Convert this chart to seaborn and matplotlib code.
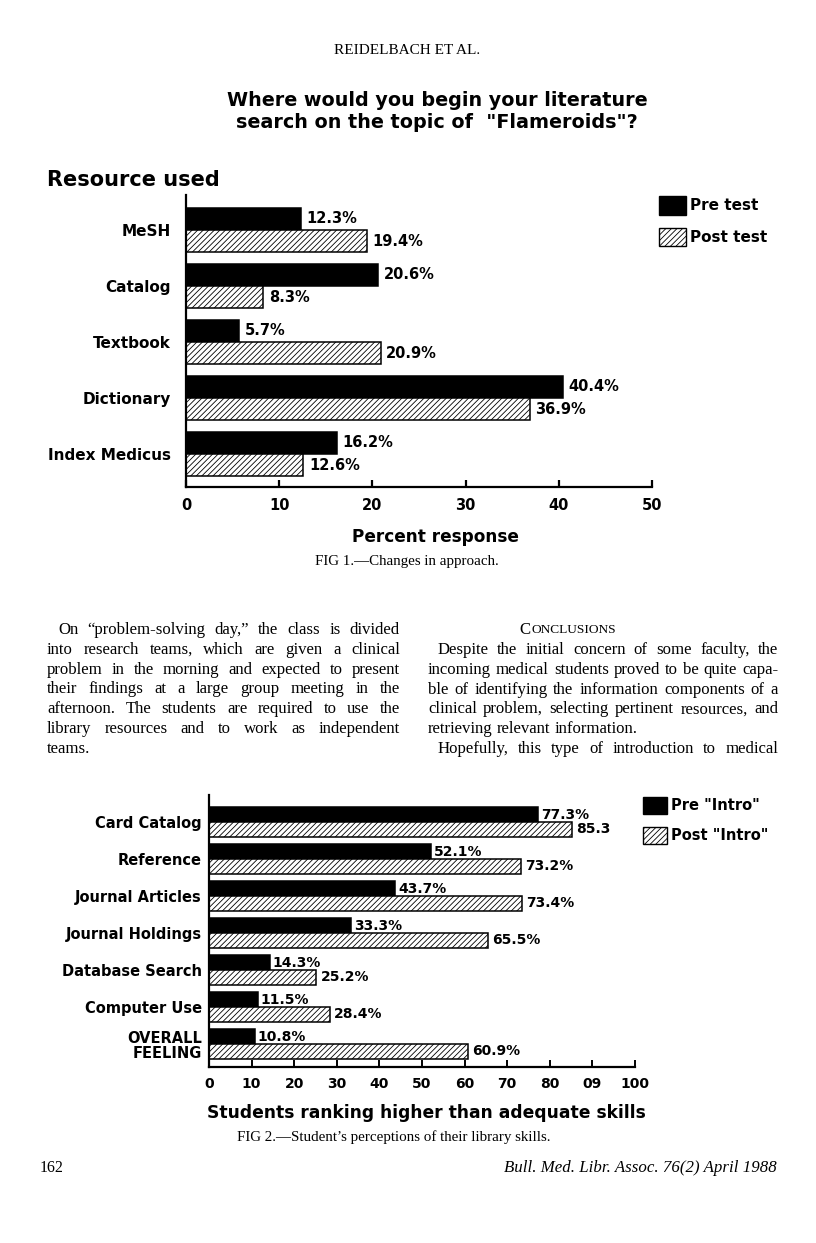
import numpy as np
import pandas as pd
import matplotlib
matplotlib.use("Agg")
import matplotlib.pyplot as plt
from matplotlib.patches import Patch
import seaborn as sns

# Fig 1 data
resources = ["MeSH", "Catalog", "Textbook", "Dictionary", "Index Medicus"]
pre_test = [12.3, 20.6, 5.7, 40.4, 16.2]
post_test = [19.4, 8.3, 20.9, 36.9, 12.6]

# Fig 2 data
skills = ["Card Catalog", "Reference", "Journal Articles", "Journal Holdings",
          "Database Search", "Computer Use", "OVERALL\nFEELING"]
pre_intro = [77.3, 52.1, 43.7, 33.3, 14.3, 11.5, 10.8]
post_intro = [85.3, 73.2, 73.4, 65.5, 25.2, 28.4, 60.9]
fig2_ticks = [0, 10, 20, 30, 40, 50, 60, 70, 80, 90, 100]
fig2_ticklabels = ["0", "10", "20", "30", "40", "50", "60", "70", "80", "09", "100"]

W, H = 816, 1243
sns.set_style("white")
plt.rcParams["font.family"] = ["DejaVu Sans"]
plt.rcParams.update({"text.color": "black", "axes.edgecolor": "black",
                     "xtick.color": "black", "ytick.color": "black",
                     "axes.labelcolor": "black", "hatch.linewidth": 0.6})
SERIF = ["Liberation Serif", "DejaVu Serif"]
HATCH = "//////"

fig = plt.figure(figsize=(W / 100, H / 100), dpi=100)
fig.patch.set_facecolor("white")


def fx(x):
    return x / W


def fy(y):
    return 1 - y / H


def hbars(ax, cats, pre, post, names):
    df = pd.DataFrame({"cat": cats * 2, "pct": pre + post,
                       "phase": [names[0]] * len(cats) + [names[1]] * len(cats)})
    sns.barplot(data=df, y="cat", x="pct", hue="phase", orient="h",
                palette=["black", "white"], saturation=1, edgecolor="black",
                linewidth=1.1, width=0.8, errorbar=None, legend=False, ax=ax)
    for p in ax.containers[1]:
        p.set_hatch(HATCH)
    sns.despine(ax=ax)
    ax.spines["left"].set_linewidth(1.6)
    ax.spines["bottom"].set_linewidth(1.6)
    ax.set_xlabel("")
    ax.set_ylabel("")


# ---------- header ----------
fig.text(fx(407), fy(50), "REIDELBACH ET AL.", family=SERIF, fontsize=11,
         ha="center", va="center")
fig.text(fx(437), fy(100), "Where would you begin your literature",
         fontsize=13.8, fontweight="bold", ha="center", va="center")
fig.text(fx(437), fy(122), "search on the topic of  \"Flameroids\"?",
         fontsize=13.8, fontweight="bold", ha="center", va="center")

# ---------- Fig 1 ----------
ax1 = fig.add_axes([fx(186), fy(487), (652 - 186) / W, (487 - 195) / H])
hbars(ax1, resources, pre_test, post_test, ["Pre test", "Post test"])
ax1.set_xlim(0, 50)
ax1.set_ylim(4.59, -0.625)
ax1.set_xticks([0, 10, 20, 30, 40, 50])
ax1.tick_params(axis="x", bottom=True, direction="in", length=5, width=1.6,
                pad=8, labelsize=10.5)
ax1.tick_params(axis="y", left=False, length=0, pad=11, labelsize=11)
for t in ax1.get_xticklabels() + ax1.get_yticklabels():
    t.set_fontweight("bold")
ax1.bar_label(ax1.containers[0], labels=[f"{v}%" for v in pre_test],
              padding=4, fontsize=10.5, fontweight="bold")
ax1.bar_label(ax1.containers[1], labels=[f"{v}%" for v in post_test],
              padding=4, fontsize=10.5, fontweight="bold")
fig.text(fx(47), fy(180), "Resource used", fontsize=15, fontweight="bold",
         ha="left", va="center")
fig.text(fx(435), fy(537), "Percent response", fontsize=12.2,
         fontweight="bold", ha="center", va="center")
fig.text(fx(407), fy(562), "FIG 1.\u2014Changes in approach.", family=SERIF,
         fontsize=10.8, ha="center", va="center")

h1 = [Patch(facecolor="black", edgecolor="black"),
      Patch(facecolor="white", edgecolor="black", hatch=HATCH)]
ax1.legend(h1, ["Pre test", "Post test"], loc="upper left",
           bbox_to_anchor=(fx(659), fy(196)), bbox_transform=fig.transFigure,
           frameon=False, borderpad=0, borderaxespad=0, handlelength=1.75,
           handleheight=1.5, labelspacing=0.85, handletextpad=0.25,
           prop={"weight": "bold", "size": 11})

# ---------- body text ----------
left_lines = [
    "On \u201cproblem-solving day,\u201d the class is divided",
    "into research teams, which are given a clinical",
    "problem in the morning and expected to present",
    "their findings at a large group meeting in the",
    "afternoon. The students are required to use the",
    "library resources and to work as independent",
    "teams.",
]
left_indent = [11, 0, 0, 0, 0, 0, 0]
left_just = [1, 1, 1, 1, 1, 1, 0]
right_lines = [
    "Despite the initial concern of some faculty, the",
    "incoming medical students proved to be quite capa-",
    "ble of identifying the information components of a",
    "clinical problem, selecting pertinent resources, and",
    "retrieving relevant information.",
    "Hopefully, this type of introduction to medical",
]
right_indent = [10, 0, 0, 0, 0, 10]
right_just = [1, 1, 1, 1, 0, 1]

renderer = fig.canvas.get_renderer()


def natural_scale(lines, indents, flags, width):
    best = 10.0
    for line, ind, fl in zip(lines, indents, flags):
        if not fl:
            continue
        t = fig.text(0, 0, line, family=SERIF, fontsize=10)
        w = t.get_window_extent(renderer).width
        t.remove()
        best = min(best, (width - ind) / w)
    return best


def justify(lines, x0, x1, y0, dy, size, indents, flags):
    for i, line in enumerate(lines):
        y = y0 + i * dy
        objs = [fig.text(0, fy(y), w, family=SERIF, fontsize=size,
                         va="center", ha="left") for w in line.split(" ")]
        widths = [o.get_window_extent(renderer).width for o in objs]
        start = x0 + indents[i]
        if flags[i] and len(objs) > 1:
            gap = (x1 - start - sum(widths)) / (len(objs) - 1)
        else:
            gap = size * 0.35
        x = start
        for o, w in zip(objs, widths):
            o.set_x(fx(x))
            x += w + gap


body_size = 10 * min(natural_scale(left_lines, left_indent, left_just, 353),
                     natural_scale(right_lines, right_indent, right_just, 350)) * 0.985
justify(left_lines, 47, 400, 630, 19.8, body_size, left_indent, left_just)
fig.text(fx(531), fy(630), "C", family=SERIF, fontsize=body_size,
         ha="right", va="center")
fig.text(fx(531), fy(630), "ONCLUSIONS", family=SERIF,
         fontsize=body_size * 0.8, ha="left", va="center")
justify(right_lines, 428, 778, 650, 19.8, body_size, right_indent, right_just)

# ---------- Fig 2 ----------
ax2 = fig.add_axes([fx(209), fy(1067), (635 - 209) / W, (1067 - 795) / H])
hbars(ax2, skills, pre_intro, post_intro, ['Pre "Intro"', 'Post "Intro"'])
ax2.set_xlim(0, 100)
ax2.set_ylim(6.62, -0.73)
ax2.set_xticks(fig2_ticks)
ax2.set_xticklabels(fig2_ticklabels)
ax2.tick_params(axis="x", bottom=True, direction="in", length=5, width=1.4,
                pad=7, labelsize=10)
ax2.tick_params(axis="y", left=False, length=0, pad=5, labelsize=10.5)
for t in ax2.get_xticklabels() + ax2.get_yticklabels():
    t.set_fontweight("bold")
    t.set_linespacing(1.0)
post_labels = [f"{v}%" for v in post_intro]
post_labels[0] = "85.3"
ax2.bar_label(ax2.containers[0], labels=[f"{v}%" for v in pre_intro],
              padding=2, fontsize=10, fontweight="bold")
ax2.bar_label(ax2.containers[1], labels=post_labels,
              padding=3, fontsize=10, fontweight="bold")
h2 = [Patch(facecolor="black", edgecolor="black"),
      Patch(facecolor="white", edgecolor="black", hatch=HATCH)]
ax2.legend(h2, ['Pre "Intro"', 'Post "Intro"'], loc="upper left",
           bbox_to_anchor=(fx(643), fy(797)), bbox_transform=fig.transFigure,
           frameon=False, borderpad=0, borderaxespad=0, handlelength=1.65,
           handleheight=1.4, labelspacing=0.9, handletextpad=0.3,
           prop={"weight": "bold", "size": 10.5})
fig.text(fx(426), fy(1113), "Students ranking higher than adequate skills",
         fontsize=12.3, fontweight="bold", ha="center", va="center")
fig.text(fx(394), fy(1137),
         "FIG 2.\u2014Student\u2019s perceptions of their library skills.",
         family=SERIF, fontsize=10.8, ha="center", va="center")

# ---------- footer ----------
fig.text(fx(40), fy(1168), "162", family=SERIF, fontsize=11.5,
         ha="left", va="center")
fig.text(fx(777), fy(1168), "Bull. Med. Libr. Assoc. 76(2) April 1988",
         family=SERIF, style="italic", fontsize=12.2, ha="right", va="center")

fig.savefig("out.png", dpi=100)
